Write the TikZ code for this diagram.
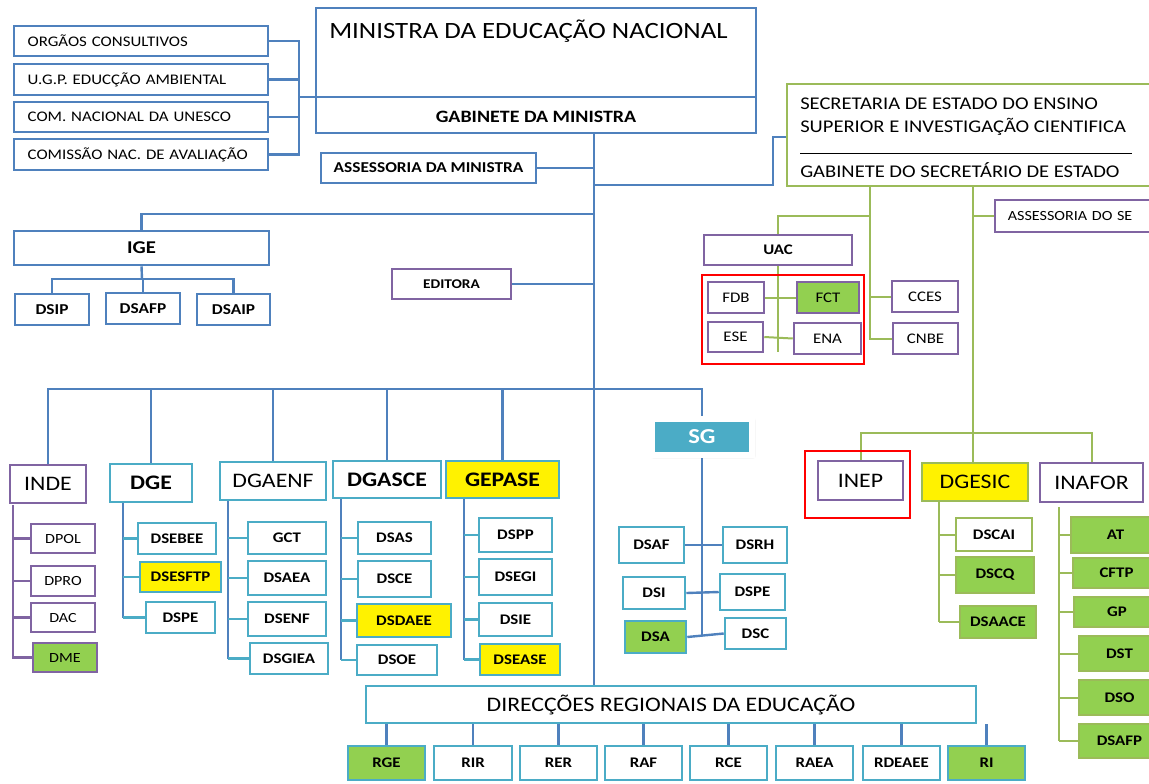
\documentclass[tikz,border=0pt]{standalone}
\usepackage{fontspec}
\setmainfont{Carlito}[FakeStretch=1.15]
\usetikzlibrary{backgrounds}
\usetikzlibrary{shadows.blur}

\definecolor{orgblue}{RGB}{79,129,189}
\definecolor{orgteal}{RGB}{75,172,198}
\definecolor{orgpurple}{RGB}{128,100,162}
\definecolor{orggreen}{RGB}{155,187,89}
\definecolor{leafgreen}{RGB}{146,208,80}

% box from its corners in pixels: [style]{name}{x1}{y1}{x2}{y2}{text}
\newcommand{\orgbox}[7][]{\node[#1, minimum width={(#5-#3)*0.75pt}, minimum height={(#6-#4)*0.75pt}] (#2) at ({(#3+#5)/2},{(#4+#6)/2}) {#7};}

\begin{document}
\begin{tikzpicture}[x=0.75pt,y=0.75pt,yscale=-1,xscale=1,
  box/.style={draw, line width=1.9pt, fill=white, inner sep=0pt, align=center},
  bluebox/.style={box, draw=orgblue},
  tealbox/.style={box, draw=orgteal},
  purplebox/.style={box, draw=orgpurple},
  greenbox/.style={box, draw=orggreen},
  hilite/.style={fill=yellow},
  leaf/.style={fill=leafgreen},
  sgbox/.style={box, fill=orgteal, draw=white, line width=4pt, text=white,
    blur shadow={shadow xshift=1pt, shadow yshift=-1pt, shadow blur steps=5, shadow opacity=40}},
  leftt/.style={text width=170pt, align=left},
  bluelink/.style={draw=orgblue, line width=1.8pt},
  tealink/.style={draw=orgteal, line width=1.8pt},
  purplelink/.style={draw=orgpurple, line width=1.8pt},
  greenlink/.style={draw=orggreen, line width=1.5pt},
  redframe/.style={draw=red, line width=1.9pt},
  lbl/.style={font=\fontsize{11}{13}\selectfont\bfseries},
  lblr/.style={font=\fontsize{10.5}{12}\selectfont},
  mid/.style={font=\fontsize{11}{13}\selectfont},
  midb/.style={font=\fontsize{11.3}{13}\selectfont\bfseries},
  head/.style={font=\fontsize{15.5}{18}\selectfont},
  headb/.style={font=\fontsize{15.5}{18}\selectfont\bfseries}]
\useasboundingbox (0,0) rectangle (1149,783);

% Ministra and her cabinet
\orgbox[bluebox, mid, leftt]{orgc}{14}{26}{268}{56}{ORGÃOS CONSULTIVOS}
\orgbox[bluebox, mid, leftt]{ugp}{14}{64}{268}{95}{U.G.P. EDUCÇÃO AMBIENTAL}
\orgbox[bluebox, mid, leftt]{unesco}{14}{102}{268}{132}{COM. NACIONAL DA UNESCO}
\orgbox[bluebox, mid, leftt]{cnaval}{14}{139}{268}{170}{COMISSÃO NAC. DE AVALIAÇÃO}
\orgbox[bluebox]{minis}{316}{8}{756}{133}{}
\node[anchor=base west, inner sep=0pt, font=\fontsize{17.5}{21}\selectfont] (mintitle) at (329,38) {MINISTRA DA EDUCAÇÃO NACIONAL};
\node[inner sep=0pt, font=\fontsize{13}{15}\selectfont\bfseries] (gab) at (536,117) {GABINETE DA MINISTRA};
\orgbox[bluebox, midb]{asm}{321}{153}{536}{183}{ASSESSORIA DA MINISTRA}
\coordinate (cv) at (299,97);
\draw[bluelink] (cv) -- (cv -| minis.east);

% Secretaria de Estado
\orgbox[greenbox]{sec}{787}{84}{1170}{186}{}
\node[anchor=base west, inner sep=0pt, font=\fontsize{13.4}{15}\selectfont] (sec1) at (800,109) {SECRETARIA DE ESTADO DO ENSINO};
\node[anchor=base west, inner sep=0pt, font=\fontsize{13.4}{15}\selectfont] (sec2) at (800,132) {SUPERIOR E INVESTIGAÇÃO CIENTIFICA};
\node[anchor=base west, inner sep=0pt, font=\fontsize{13.4}{15}\selectfont] (sec3) at (800,177) {GABINETE DO SECRETÁRIO DE ESTADO};
\draw[line width=0.6pt] (800,153) -- (1132,153);
\orgbox[purplebox, lblr, text width=112pt, align=left]{ase}{995}{200}{1170}{232}{ASSESSORIA DO SE}
\orgbox[purplebox, font=\fontsize{11}{13}\selectfont\bfseries]{uac}{704}{235}{852}{265}{UAC}
\draw[redframe] (702,275) rectangle (864,364);
\orgbox[purplebox, mid]{fdb}{708}{282}{764}{313}{FDB}
\orgbox[purplebox, leaf, mid]{fct}{797}{282}{859}{313}{FCT}
\orgbox[purplebox, mid]{ese}{708}{322}{763}{352}{ESE}
\orgbox[purplebox, mid]{ena}{794}{323}{861}{354}{ENA}
\orgbox[purplebox, mid]{cces}{892}{281}{958}{312}{CCES}
\orgbox[purplebox, mid]{cnbe}{893}{323}{958}{354}{CNBE}

% IGE and Editora
\orgbox[bluebox, font=\fontsize{13.5}{16}\selectfont\bfseries]{ige}{14}{231}{269}{265}{IGE}
\orgbox[bluebox, midb]{dsip}{15}{294}{89}{325}{DSIP}
\orgbox[bluebox, midb]{dsafp}{106}{293}{180}{324}{DSAFP}
\orgbox[bluebox, midb]{dsaip}{197}{294}{270}{325}{DSAIP}
\orgbox[purplebox, font=\fontsize{10}{12}\selectfont\bfseries]{edi}{392}{269}{511}{299}{EDITORA}

% Direcções gerais
\orgbox[purplebox, head]{inde}{10}{465}{86}{503}{INDE}
\orgbox[tealbox, headb]{dge}{110}{464}{192}{502}{DGE}
\orgbox[tealbox, head]{dgaenf}{220}{462}{326}{500}{DGAENF}
\orgbox[tealbox, headb]{dgasce}{333}{461}{441}{498}{DGASCE}
\orgbox[tealbox, hilite, headb]{gepase}{446}{461}{559}{498}{GEPASE}

\orgbox[purplebox, lblr]{dpol}{31}{524}{95}{553}{DPOL}
\orgbox[purplebox, lblr]{dpro}{31}{566}{95}{596}{DPRO}
\orgbox[purplebox, lblr]{dac}{31}{603}{95}{632}{DAC}
\orgbox[purplebox, leaf, lblr]{dme}{33}{643}{97}{672}{DME}

\orgbox[tealbox, lbl]{dsebee}{138}{523}{216}{554}{DSEBEE}
\orgbox[tealbox, hilite, lbl]{dsesftp}{140}{562}{221}{592}{DSESFTP}
\orgbox[tealbox, lbl]{dspea}{146}{602}{215}{633}{DSPE}

\orgbox[tealbox, lbl]{gct}{248}{522}{326}{554}{GCT}
\orgbox[tealbox, lbl]{dsaea}{248}{561}{326}{595}{DSAEA}
\orgbox[tealbox, lbl]{dsenf}{248}{602}{326}{636}{DSENF}
\orgbox[tealbox, lbl]{dsgiea}{250}{643}{328}{674}{DSGIEA}

\orgbox[tealbox, lbl]{dsas}{358}{522}{431}{554}{DSAS}
\orgbox[tealbox, lbl]{dsce}{358}{561}{431}{597}{DSCE}
\orgbox[tealbox, hilite, lbl]{dsdaee}{357}{604}{451}{637}{DSDAEE}
\orgbox[tealbox, lbl]{dsoe}{357}{645}{437}{675}{DSOE}

\orgbox[tealbox, lbl]{dspp}{479}{518}{552}{552}{DSPP}
\orgbox[tealbox, lbl]{dsegi}{479}{559}{552}{595}{DSEGI}
\orgbox[tealbox, lbl]{dsie}{479}{603}{552}{636}{DSIE}
\orgbox[tealbox, hilite, lbl]{dsease}{480}{644}{560}{675}{DSEASE}

% SG
\orgbox[sgbox, font=\fontsize{16}{18}\selectfont\bfseries]{sg}{652}{419}{752}{455}{SG}
\orgbox[tealbox, lbl]{dsaf}{619}{527}{684}{563}{DSAF}
\orgbox[tealbox, lbl]{dsrh}{723}{527}{787}{563}{DSRH}
\orgbox[tealbox, lbl]{dsi}{623}{577}{685}{609}{DSI}
\orgbox[tealbox, lbl]{dspeb}{720}{574}{785}{610}{DSPE}
\orgbox[tealbox, leaf, lbl]{dsa}{625}{621}{686}{653}{DSA}
\orgbox[tealbox, lbl]{dsc}{725}{618}{786}{649}{DSC}

% Ensino superior
\draw[redframe] (805,451) rectangle (910,518);
\orgbox[purplebox, head]{inep}{818}{461}{903}{500}{INEP}
\orgbox[greenbox, hilite, head]{dgesic}{922}{463}{1028}{501}{DGESIC}
\orgbox[purplebox, head]{inafor}{1040}{463}{1143}{502}{INAFOR}
\orgbox[greenbox, lbl]{dscai}{956}{518}{1032}{551}{DSCAI}
\orgbox[greenbox, leaf, lbl]{dscq}{956}{557}{1034}{593}{DSCQ}
\orgbox[greenbox, leaf, lbl]{dsaace}{960}{606}{1036}{638}{DSAACE}
\orgbox[greenbox, leaf, lbl]{at}{1071}{517}{1160}{553}{AT}
\orgbox[greenbox, leaf, lbl]{cftp}{1073}{558}{1160}{588}{CFTP}
\orgbox[greenbox, leaf, lbl]{gp}{1074}{597}{1160}{627}{GP}
\orgbox[greenbox, leaf, lbl]{dst}{1079}{636}{1160}{671}{DST}
\orgbox[greenbox, leaf, lbl]{dso}{1079}{680}{1160}{715}{DSO}
\orgbox[greenbox, leaf, lbl]{dsafpb}{1079}{724}{1160}{758}{DSAFP}

% Direcções regionais
\orgbox[tealbox, head]{dre}{366}{686}{976}{723}{DIRECÇÕES REGIONAIS DA EDUCAÇÃO}
\orgbox[tealbox, leaf, lbl]{rge}{348}{746}{425}{780}{RGE}
\orgbox[tealbox, lbl]{rir}{434}{746}{512}{780}{RIR}
\orgbox[tealbox, lbl]{rer}{520}{746}{597}{780}{RER}
\orgbox[tealbox, lbl]{raf}{605}{746}{682}{780}{RAF}
\orgbox[tealbox, lbl]{rce}{690}{746}{767}{780}{RCE}
\orgbox[tealbox, lbl]{raea}{776}{746}{853}{780}{RAEA}
\orgbox[tealbox, lbl]{rdeaee}{863}{746}{940}{780}{RDEAEE}
\orgbox[tealbox, leaf, lbl]{ri}{948}{746}{1025}{780}{RI}

\coordinate (trunk) at (594,133);
\coordinate (j1) at (594,185);
\coordinate (j1b) at (773,137);
\coordinate (j2) at (594,214);
\coordinate (j3) at (142,279);
\coordinate (j4) at (594,389);
\coordinate (ic) at (13,505);
\coordinate (gc) at (123,502);
\coordinate (ac) at (228,500);
\coordinate (scc) at (341,498);
\coordinate (pc) at (464,498);
\coordinate (sgb) at (702,636);
\coordinate (s1) at (870,186);
\coordinate (j6) at (870,216);
\coordinate (uacb) at (778,352);
\coordinate (s2) at (973,186);
\coordinate (j5) at (973,433);
\coordinate (dc) at (939,501);
\coordinate (fc) at (1059,507);

\begin{scope}[on background layer]
%Straight Lines
\foreach \n in {orgc,ugp,unesco,cnaval} \draw[bluelink] (\n.east) -| (cv);
\draw[bluelink] (trunk) -- (trunk |- dre.north);
\draw[bluelink] (asm.east) -- (asm.east -| trunk);
\draw[bluelink] (j1) -| (j1b) -- (j1b -| sec.west);
\draw[bluelink] (j2) -| (ige.north);
\draw[bluelink] (ige.south) -- (j3);
\draw[bluelink] (dsip.north) |- (j3) -| (dsaip.north);
\draw[bluelink] (dsafp.north) -- (dsafp.north |- j3);
\draw[bluelink] (edi.east) -- (edi.east -| trunk);
\draw[bluelink] (inde.north) |- (j4) -| (sg.north);
\foreach \n in {dge,dgaenf,dgasce,gepase} \draw[bluelink] (\n.north) -- (\n.north |- j4);

\draw[purplelink] (ic) |- (dme.west);
\foreach \n in {dpol,dpro,dac} \draw[purplelink] (\n.west) -- (\n.west -| ic);
\draw[bluelink] (gc) -- (gc |- dspea.west);
\foreach \n in {dsebee,dsesftp,dspea} \draw[tealink] (\n.west) -- (\n.west -| gc);
\draw[bluelink] (ac) -- (ac |- dsgiea.west);
\foreach \n in {gct,dsaea,dsenf,dsgiea} \draw[tealink] (\n.west) -- (\n.west -| ac);
\draw[bluelink] (scc) -- (scc |- dsoe.west);
\foreach \n in {dsas,dsce,dsdaee,dsoe} \draw[tealink] (\n.west) -- (\n.west -| scc);
\draw[bluelink] (pc) -- (pc |- dsease.west);
\foreach \n in {dspp,dsegi,dsie,dsease} \draw[tealink] (\n.west) -- (\n.west -| pc);

\draw[bluelink] (sg.south) -- (sgb);
\draw[bluelink] (dsaf.east) -- (dsrh.west);
\draw[bluelink] (dsi.east) -- (dspeb.west);
\draw[bluelink] (dsa.east) -- (dsc.west);

\foreach \n in {rge,rir,rer,raf,rce,raea,rdeaee,ri} \draw[bluelink] (\n.north) -- (\n.north |- dre.south);

%Green Lines
\draw[greenlink] (s1) |- (cnbe.west);
\draw[greenlink] (cces.west) -- (cces.west -| s1);
\draw[greenlink] (j6) -| (uac.north);
\draw[greenlink] (uac.south) -- (uacb);
\draw[greenlink] (fdb.east) -- (fct.west);
\draw[greenlink] (ese.east) -- (ena.west);
\draw[greenlink] (s2) -- (s2 |- dgesic.north);
\draw[greenlink] (ase.west) -- (ase.west -| s2);
\draw[greenlink] (inep.north) |- (j5) -| (inafor.north);
\draw[greenlink] (dc) -- (dc |- dsaace.west);
\foreach \n in {dscai,dscq,dsaace} \draw[greenlink] (\n.west) -- (\n.west -| dc);
\draw[greenlink] (fc) -- (fc |- dsafpb.west);
\foreach \n in {at,cftp,gp,dst,dso,dsafpb} \draw[greenlink] (\n.west) -- (\n.west -| fc);
\end{scope}

\end{tikzpicture}
\end{document}
